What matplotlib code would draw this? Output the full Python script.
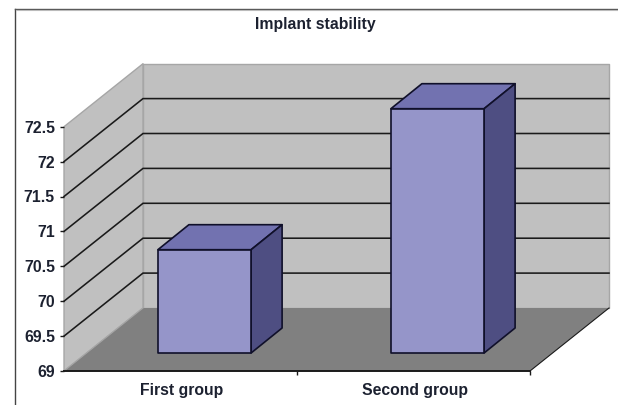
import matplotlib
matplotlib.use("Agg")
import matplotlib.pyplot as plt
from matplotlib.patches import Polygon
from matplotlib.lines import Line2D

categories = ["First group", "Second group"]
values = [70.48, 72.5]
y_ticks = [69, 69.5, 70, 70.5, 71, 71.5, 72, 72.5]
y_tick_labels = ["69", "69.5", "70", "70.5", "71", "71.5", "72", "72.5"]
title = "Implant stability"

W, H = 618, 405
plt.rcParams["font.family"] = ["Liberation Sans", "DejaVu Sans"]
fig = plt.figure(figsize=(W / 100, H / 100), dpi=100, facecolor="white")
ax = fig.add_axes([64 / W, 1 - 371 / H, (530 - 64) / W, (371 - 126.7) / H])
ax.set_xlim(-0.5, 1.5)
ax.set_ylim(69, 72.5)
ax.patch.set_visible(False)
for s in ax.spines.values():
    s.set_visible(False)

# depth of the 3D box in data units
DX = 79 / 233
DY = 63 / (244.3 / 3.5)
x0, x1, y0, y1 = -0.5, 1.5, 69, 72.5

def poly(pts, fc, ec="none", lw=0, z=1):
    ax.add_patch(Polygon(pts, closed=True, facecolor=fc, edgecolor=ec, linewidth=lw,
                         zorder=z, clip_on=False, joinstyle="round"))

# walls and floor
wall = "#c0c0c0"
poly([(x0 + DX, y0 + DY), (x1 + DX, y0 + DY), (x1 + DX, y1 + DY), (x0 + DX, y1 + DY)], wall, "#a6a6a6", 1.0, 1)
poly([(x0, y0), (x0 + DX, y0 + DY), (x0 + DX, y1 + DY), (x0, y1)], wall, "#a6a6a6", 1.0, 1)
poly([(x0, y0), (x1, y0), (x1 + DX, y0 + DY), (x0 + DX, y0 + DY)], "#808080", "none", 0, 1.5)

# gridlines (the top edge of the walls stays grey)
for t in y_ticks[1:-1]:
    ax.plot([x0, x0 + DX, x1 + DX], [t, t + DY, t + DY], color="#1a1a1a", lw=1.15, zorder=2,
            clip_on=False, solid_joinstyle="miter")
ax.plot([x1, x1 + DX], [y0, y0 + DY], color="#1a1a1a", lw=0.8, zorder=2, clip_on=False)
ax.plot([x0, x1], [y0, y0], color="#1a1a1a", lw=1.4, zorder=2, clip_on=False)
ax.plot([x0, x0 + DX], [y0, y0 + DY], color="#a6a6a6", lw=0.8, zorder=1.6, clip_on=False)

# bars
bw = 0.4
bdx = 31 / 233
bdy = 25 / (244.3 / 3.5)
inx = (DX - bdx) / 2
iny = (DY - bdy) / 2 - 1 / (244.3 / 3.5)
for i, v in enumerate(values):
    l, r = i - bw / 2 + inx, i + bw / 2 + inx
    b, t = y0 + iny, v + iny
    poly([(l, t), (l + bdx, t + bdy), (r + bdx, t + bdy), (r, t)], "#7272b0", "#10102a", 1.2, 3)
    poly([(r, b), (r + bdx, b + bdy), (r + bdx, t + bdy), (r, t)], "#4e4e82", "#10102a", 1.2, 3)
    poly([(l, b), (r, b), (r, t), (l, t)], "#9595c9", "#10102a", 1.2, 4)

ax.set_xticks([0.5, 1.5], minor=False)
ax.set_xticklabels(["", ""])
ax.tick_params(axis="x", length=3, width=1, color="#1a1a1a", direction="out", pad=0)
ax.set_yticks(y_ticks)
ax.set_yticklabels(y_tick_labels, fontsize=11.4, fontweight="bold", color="#1c2130")
ax.tick_params(axis="y", length=3, width=1, color="#1a1a1a", pad=3.5)
for i, c in enumerate(categories):
    ax.annotate(c, xy=(i, 69), xycoords="data", xytext=(1, -19), textcoords="offset pixels",
                ha="center", va="center", fontsize=11.3, fontweight="bold", color="#1c2130")

fig.text(315 / W, 1 - 25 / H, title, ha="center", va="center", fontsize=11.3,
         fontweight="bold", color="#1c2130")

# outer frame of the screenshot
fig.add_artist(Line2D([14.5 / W, 14.5 / W], [0, 1 - 8.5 / H], color="#444444", lw=1.0))
fig.add_artist(Line2D([14.5 / W, 1], [1 - 8.5 / H, 1 - 8.5 / H], color="#555555", lw=1.0))
fig.add_artist(Line2D([15.5 / W, 1], [1 - 9.7 / H, 1 - 9.7 / H], color="#bbbbbb", lw=0.8))

fig.savefig("out.png", dpi=100, facecolor="white")
